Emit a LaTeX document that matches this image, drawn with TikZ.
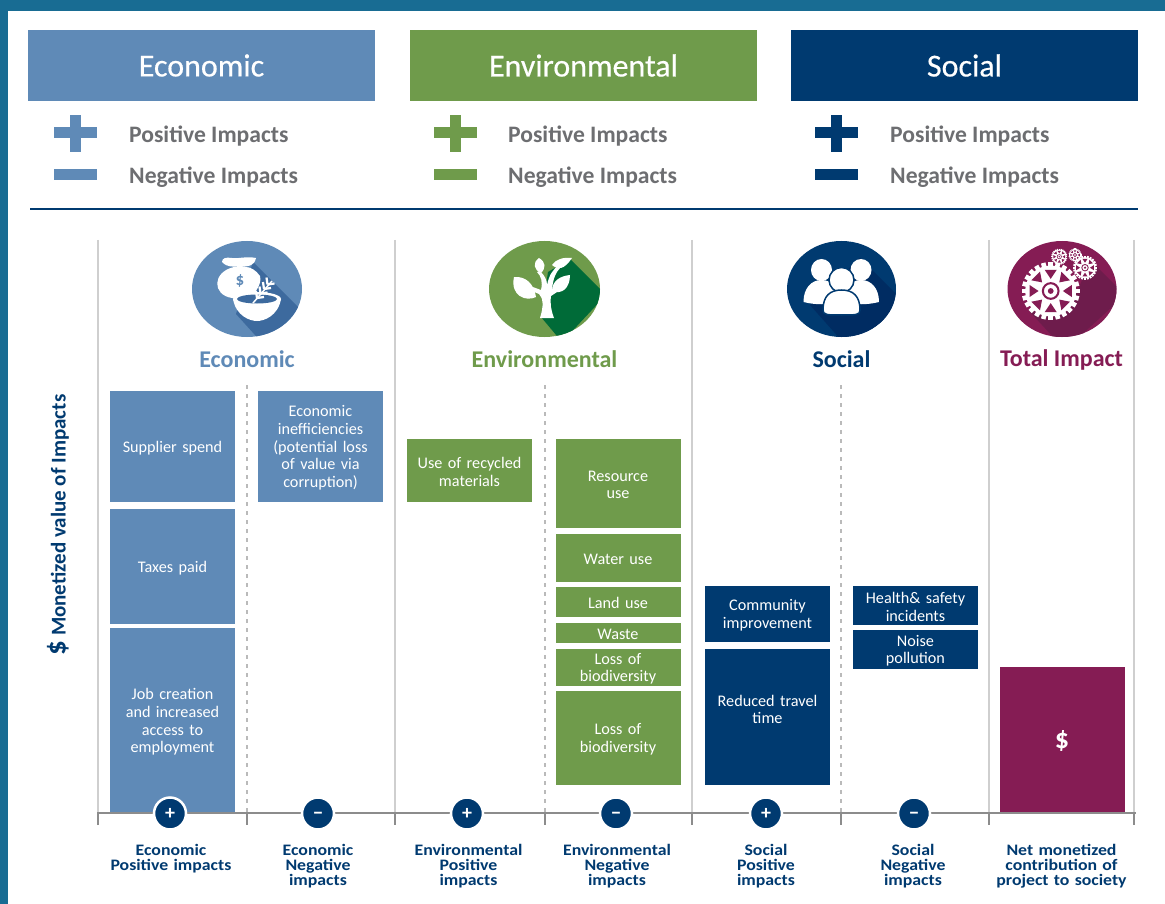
\documentclass[tikz,border=0pt]{standalone}
\usepackage{fontspec}
\setmainfont{Carlito}
\newfontfamily\headfont[FakeBold=0.4]{Carlito}
\newfontfamily\capfont[FakeStretch=1.11]{Carlito}
\definecolor{eco}{HTML}{5F8AB7}
\definecolor{ecodark}{HTML}{3D6A9E}
\definecolor{env}{HTML}{6F9B4B}
\definecolor{envdark}{HTML}{006B38}
\definecolor{soc}{HTML}{003A70}
\definecolor{socdark}{HTML}{002C62}
\definecolor{tot}{HTML}{851C54}
\definecolor{totdark}{HTML}{6E1C4C}
\definecolor{frame}{HTML}{186C93}
\definecolor{txtgrey}{HTML}{6D6E71}
\definecolor{axisgrey}{HTML}{8C8C8C}
\definecolor{gridgrey}{HTML}{CFCFCF}
\tikzset{
    header/.style={minimum width=347pt, minimum height=71pt, text=white, inner sep=0pt, font=\fontsize{32}{35}\headfont},
    legend/.style={anchor=west, inner sep=0pt, text=txtgrey, font=\fontsize{23.6}{26}\selectfont\bfseries},
    title/.style={inner sep=0pt, font=\fontsize{24}{26}\selectfont\bfseries},
    impact/.style={minimum width=125pt, inner sep=0pt, text width=122pt, align=center, text=white, font=\fontsize{16.2}{17.8}\selectfont},
    badge/.style={circle, fill=soc, draw=white, line width=2.5pt, minimum size=32pt, inner sep=0pt, text height=12pt, text depth=0pt, text=white, font=\fontsize{20}{20}\selectfont\bfseries},
    captext/.style={inner sep=0pt, text width=146pt, align=center, anchor=north, text=soc, font=\fontsize{16}{15}\capfont\bfseries, execute at begin node={\lineskiplimit=-10pt}},
    grid/.style={gridgrey, line width=1.6pt},
    dashgrid/.style={gridgrey!90!black, line width=1.2pt, dash pattern=on 4pt off 5pt},
    axisline/.style={axisgrey, line width=1.8pt},
}
% one gear: centre, radius, fill behind it
\newcommand{\drawgear}[4]{
    \begin{scope}[shift={(#1,#2)}]
        \foreach \a in {0,15,...,345}
            \draw[white, line width=0.16*#3 pt] (\a:0.8*#3) -- (\a:#3);
        \fill[white] (0,0) circle (0.88*#3);
        \foreach \a in {0,45,...,315}
            \fill[#4] (\a-16:0.76*#3) -- (\a+16:0.76*#3) -- (\a:0.42*#3) -- cycle;
        \draw[#4, line width=0.07*#3 pt] (0,0) circle (0.27*#3);
        \fill[#4] (0,0) circle (0.1*#3);
    \end{scope}
}
\begin{document}
\begin{tikzpicture}[x=1pt,y=-1pt]
    \useasboundingbox (0,0) rectangle (1165,904);
    \fill[white] (0,0) rectangle (1165,904);
    \fill[frame] (0,0) rectangle (1165,11);
    \fill[frame] (0,0) rectangle (8,904);

    % top headers and their legends
    \foreach \name/\col/\txt/\cx/\ix/\tx in {eco/eco/Economic/201.5/75.5/129, env/env/Environmental/583.5/455.5/508, soc/soc/Social/964.5/836.5/890} {
        \node[header, fill=\col] (head\name) at (\cx,65.5) {\txt};
        \fill[\col] (\ix-21.5,127.5) rectangle (\ix+21.5,138.5);
        \fill[\col] (\ix-5.5,115) rectangle (\ix+5.5,152);
        \fill[\col] (\ix-21.5,169) rectangle (\ix+21.5,180);
        \node[legend] (pos\name) at (\tx,136) {Positive Impacts};
        \node[legend] (neg\name) at (\tx,177.5) {Negative Impacts};
    }
    \draw[soc, line width=1.8pt] (30,209) -- (1138,209);

    % grid lines
    \foreach \x in {98,395,692,989,1134}
        \draw[grid] (\x,240) -- (\x,813);
    \foreach \x in {247,545,841}
        \draw[dashgrid] (\x,385) -- (\x,813);

    % round icons
    \fill[eco] (247,289) ellipse (55 and 48);
    \fill[env] (544.5,289) ellipse (55.5 and 48);
    \fill[soc] (841.5,289) ellipse (54.5 and 48);
    \fill[tot] (1062,289) ellipse (54.5 and 48);

    \begin{scope}
        \clip (247,289) ellipse (55 and 48);
        \fill[ecodark] (253,262) -- (312,321) -- (264,345) -- (236,314) -- cycle;
    \end{scope}
    \fill[white] (222,262) .. controls (228,268) and (232,266) .. (240,267) .. controls (250,266) and (254,266) .. (256,258) .. controls (246,256) and (238,259) .. (232,258) .. controls (226,257) and (222,258) .. (222,262) -- cycle;
    \fill[white] (234,267) .. controls (212,272) and (212,295) .. (232,298) -- (252,298) .. controls (256,290) and (262,284) .. (260,276) .. controls (256,270) and (250,267) .. (246,267) -- cycle;
    \node[inner sep=0pt, text=eco, font=\fontsize{17}{17}\selectfont\bfseries] (ecodollar) at (240,281) {\$};
    \fill[white] (233,299) .. controls (236,316) and (250,321) .. (257,321) .. controls (264,321) and (278,316) .. (281,299) -- cycle;
    \fill[white] (257,299) ellipse (24 and 7);
    \fill[ecodark] (257,299) ellipse (20 and 4.5);
    \draw[white, line width=1.5pt] (253,303) -- (272,281);
    \foreach \t in {0,1,2,3}
        \draw[white, line width=2.2pt] (257+\t*3.5,298-\t*4.5) -- +(-1,-7) (257+\t*3.5,298-\t*4.5) -- +(7,-1);

    \begin{scope}
        \clip (544.5,289) ellipse (55.5 and 48);
        \fill[envdark] (570,259) -- (606,295) -- (562,342) -- (541,317) -- (548,272) -- cycle;
    \end{scope}
    \fill[white] (540,318) .. controls (544,305) and (543,298) .. (539,294) -- (527,289) -- (530,286) -- (541,290) .. controls (543,282) and (541,276) .. (537,272) -- (540,271) .. controls (545,276) and (547,280) .. (547,285) .. controls (549,276) and (552,270) .. (559,265) -- (561,267) .. controls (556,272) and (553,278) .. (552,290) -- (561,285) -- (563,288) -- (551,296) .. controls (550,304) and (551,310) .. (554,318) -- cycle;
    \fill[white] (514,277) .. controls (526,276) and (534,284) .. (536,297) .. controls (526,302) and (510,296) .. (514,277) -- cycle;
    \fill[white] (539,258) .. controls (546,262) and (546,268) .. (541,273) .. controls (534,270) and (532,263) .. (539,258) -- cycle;
    \fill[white] (572,258) .. controls (564,270) and (558,270) .. (552,265) .. controls (556,259) and (564,257) .. (572,258) -- cycle;
    \fill[white] (570,275) .. controls (570,288) and (562,295) .. (552,291) .. controls (552,281) and (560,276) .. (570,275) -- cycle;

    \begin{scope}
        \clip (841.5,289) ellipse (54.5 and 48);
        \fill[socdark] (860,258) -- (905,303) -- (850,350) -- (810,305) -- cycle;
    \end{scope}
    \foreach \hx/\bx in {821.5/803.5, 861/843} {
        \fill[white] (\hx,270) ellipse (10.5 and 11);
        \fill[white] (\bx,302) .. controls (\bx,288) and (\bx+8,280) .. (\bx+18,280) .. controls (\bx+28,280) and (\bx+36,288) .. (\bx+36,302) .. controls (\bx+24,305) and (\bx+12,305) .. (\bx,302) -- cycle;
    }
    \fill[white, draw=soc, line width=1.5pt] (841.5,280) ellipse (12.5 and 12.5);
    \fill[white, draw=soc, line width=1.5pt] (823,310) .. controls (823,296) and (830,290) .. (841.5,290) .. controls (853,290) and (860,296) .. (860,310) .. controls (860,315) and (856,315) .. (841.5,315) .. controls (827,315) and (823,315) .. (823,310) -- cycle;

    \begin{scope}
        \clip (1062,289) ellipse (54.5 and 48);
        \fill[totdark] (1090,260) -- (1125,295) -- (1065,350) -- (1030,312) -- (1078,290) -- cycle;
    \end{scope}
    \drawgear{1050.7}{291}{29}{tot}
    \drawgear{1059.3}{256.7}{8}{tot}
    \drawgear{1075}{255}{6.5}{tot}
    \drawgear{1085}{267.7}{12}{tot}

    % column titles
    \node[title, text=eco] (titleeco) at (247,359) {Economic};
    \node[title, text=env] (titleenv) at (544.5,359) {Environmental};
    \node[title, text=soc] (titlesoc) at (841.5,359) {Social};
    \node[title, text=tot] (titletot) at (1061.5,359.5) {Total Impact};

    % stacked impact boxes
    \foreach \name/\col/\cx/\ya/\yb/\txt in {
        supplier/eco/172.5/391/502/Supplier spend,
        taxes/eco/172.5/509/624/Taxes paid,
        jobs/eco/172.5/628/813/{Job creation\\and increased\\access to\\employment},
        ineff/eco/320.5/391/502/{Economic\\inefficiencies\\(potential loss\\of value via\\corruption)},
        recycled/env/469.5/439/502/{Use of recycled\\materials},
        resource/env/618/439/528/{Resource\\use},
        water/env/618/534/582/Water use,
        land/env/618/587/617/Land use,
        waste/env/618/623/643/Waste,
        lossa/env/618/649/686/{Loss of\\biodiversity},
        lossb/env/618/691/785/{Loss of\\biodiversity},
        community/soc/767.5/586/642/{Community\\improvement},
        travel/soc/767.5/649/785/{Reduced travel\\time\\\mbox{}},
        health/soc/915.5/586/625/{Health\& safety\\incidents},
        noise/soc/915.5/630/669/{Noise\\pollution}
    } {
        \fill[\col] (\cx-62.5,\ya) rectangle (\cx+62.5,\yb);
        \node[impact] (\name) at (\cx,{(\ya+\yb)/2+1.3}) {\txt};
    }
    \fill[tot] (1000,667) rectangle (1125,813);
    \node[inner sep=0pt, text=white, font=\fontsize{28}{28}\selectfont\bfseries] (net) at (1062,741) {\$};

    % axis with ticks and badges
    \draw[axisline] (98,825) -- (98,813) -- (1136,813);
    \foreach \x in {247,395,545,692,841,989,1134}
        \draw[axisline] (\x,813) -- (\x,825);
    \foreach \name/\x/\sign in {ecopos/170/+, econeg/318/−, envpos/467/+, envneg/616/−, socpos/766/+, socneg/914/−}
        \node[badge] (\name) at (\x,813.5) {\sign};

    % captions under the axis
    \foreach \name/\x/\txt in {
        capa/171/{Economic\\Positive impacts},
        capb/318/{Economic\\Negative\\impacts},
        capc/468.5/{Environmental\\Positive\\impacts},
        capd/617/{Environmental\\Negative\\impacts},
        cape/766/{Social\\Positive\\impacts},
        capf/913/{Social\\Negative\\impacts},
        capg/1061.5/{Net monetized\\contribution of\\project to society}
    } {
        \node[captext] (\name) at (\x,844) {\txt};
    }

    \node[rotate=90, inner sep=0pt, text=soc, font=\fontsize{21}{24}\selectfont\bfseries] (ylabel) at (58,525) {{\fontsize{29}{29}\selectfont\$} Monetized value of Impacts};
\end{tikzpicture}
\end{document}
